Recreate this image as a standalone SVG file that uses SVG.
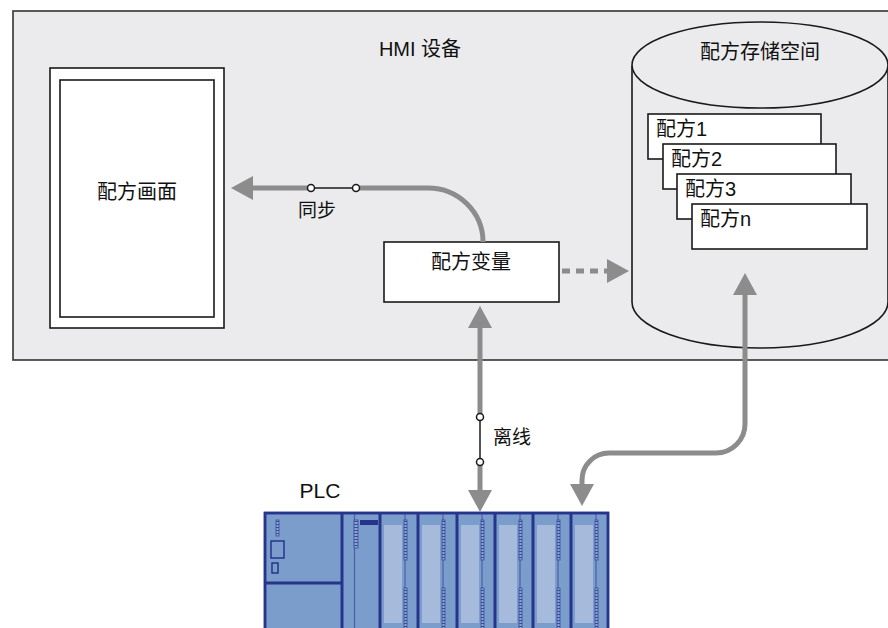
<svg xmlns="http://www.w3.org/2000/svg" width="888" height="628" viewBox="0 0 888 628">
  <style>
    .lbl { font-family: "Liberation Sans", "Noto Sans CJK SC", sans-serif; font-size: 20px; fill: #111; }
    .sm { font-size: 19px; }
    .box { fill: #ffffff; stroke: #1a1a1a; stroke-width: 1.6; }
    .pipe { fill: none; stroke: #8c8c8c; stroke-width: 5; }
    .wire { fill: none; stroke: #1a1a1a; stroke-width: 1.5; }
    .pin { fill: #ffffff; stroke: #1a1a1a; stroke-width: 1.5; }
    .rack { fill: #7b9dcb; stroke: #27348b; stroke-width: 2.5; }
    .div { stroke: #27348b; stroke-width: 3; }
    .thin { stroke: #4d5ea8; stroke-width: 1.2; }
    .panel { fill: #a6bbdc; }
    .led { fill: url(#ledpat); stroke: #3a4a9c; stroke-width: 0.8; }
  </style>
  <defs>
    <marker id="head" viewBox="0 0 22 24" refX="1" refY="12" markerWidth="22" markerHeight="24" markerUnits="userSpaceOnUse" orient="auto-start-reverse">
      <path d="M0,0 L22,12 L0,24 z" fill="#8c8c8c"/>
    </marker>
    <pattern id="ledpat" width="4" height="3" patternUnits="userSpaceOnUse">
      <rect width="4" height="3" fill="#8aa6d2"/>
      <rect y="2" width="4" height="1" fill="#3a4a9c"/>
    </pattern>
  </defs>

  <!-- HMI device frame -->
  <g id="hmi">
    <rect x="13" y="11" width="890" height="349" fill="#ebebed" stroke="#333" stroke-width="1.6"/>
    <text class="lbl" x="420" y="56" text-anchor="middle">HMI 设备</text>
  </g>

  <!-- recipe screen -->
  <g id="recipe-screen">
    <rect class="box" x="50" y="68" width="174" height="260"/>
    <rect class="box" x="60" y="80" width="154" height="237"/>
    <text class="lbl" x="137" y="199" text-anchor="middle">配方画面</text>
  </g>

  <!-- recipe variable -->
  <g id="recipe-variable">
    <rect class="box" x="384" y="242" width="175" height="60"/>
    <text class="lbl" x="471" y="269" text-anchor="middle">配方变量</text>
  </g>

  <!-- recipe storage cylinder -->
  <g id="recipe-storage">
    <path d="M632,66 L632,302 A128,46 0 0 0 888,302 L888,66" fill="#ebebed" stroke="#1a1a1a" stroke-width="1.6"/>
    <ellipse cx="760" cy="65" rx="128" ry="43" fill="#ebebed" stroke="#1a1a1a" stroke-width="1.6"/>
    <text class="lbl" x="760" y="59" text-anchor="middle">配方存储空间</text>
    <rect class="box" x="648" y="114" width="173" height="45"/>
    <text class="lbl" x="656" y="136">配方1</text>
    <rect class="box" x="663" y="144" width="173" height="45"/>
    <text class="lbl" x="671" y="166">配方2</text>
    <rect class="box" x="677" y="174" width="174" height="45"/>
    <text class="lbl" x="685" y="196">配方3</text>
    <rect class="box" x="692" y="204" width="175" height="45"/>
    <text class="lbl" x="700" y="226">配方n</text>
  </g>

  <!-- PLC rack -->
  <g id="plc">
    <text class="lbl" x="320" y="498" text-anchor="middle" style="font-size:21px">PLC</text>
    <rect class="rack" x="265" y="513" width="343" height="130"/>
    <!-- power supply -->
    <line class="div" x1="342" y1="513" x2="342" y2="640"/>
    <line class="div" x1="265" y1="583" x2="342" y2="583"/>
    <rect class="led" x="276" y="520" width="3" height="16"/>
    <rect x="271" y="541" width="13" height="17" fill="none" stroke="#27348b" stroke-width="1.5"/>
    <rect x="272" y="563" width="6" height="10" fill="none" stroke="#27348b" stroke-width="1.5"/>
    <!-- CPU -->
    <line class="thin" x1="354.5" y1="513" x2="354.5" y2="640"/>
    <rect class="led" x="354" y="520" width="4" height="28"/>
    <rect x="360" y="520" width="18" height="5" fill="#27348b"/>
    <!-- signal modules -->
    <g id="sm1">
      <line class="div" x1="380" y1="513" x2="380" y2="640"/>
      <rect class="panel" x="384" y="525" width="18" height="98"/>
      <line class="thin" x1="405" y1="513" x2="405" y2="640"/>
      <rect class="led" x="404" y="520" width="3" height="40"/>
      <rect class="led" x="404" y="588" width="3" height="45"/>
    </g>
    <g id="sm2">
      <line class="div" x1="418" y1="513" x2="418" y2="640"/>
      <rect class="panel" x="422" y="525" width="18" height="98"/>
      <line class="thin" x1="443" y1="513" x2="443" y2="640"/>
      <rect class="led" x="442" y="520" width="3" height="40"/>
      <rect class="led" x="442" y="588" width="3" height="45"/>
    </g>
    <g id="sm3">
      <line class="div" x1="457" y1="513" x2="457" y2="640"/>
      <rect class="panel" x="461" y="525" width="18" height="98"/>
      <line class="thin" x1="482" y1="513" x2="482" y2="640"/>
      <rect class="led" x="481" y="520" width="3" height="40"/>
      <rect class="led" x="481" y="588" width="3" height="45"/>
    </g>
    <g id="sm4">
      <line class="div" x1="495" y1="513" x2="495" y2="640"/>
      <rect class="panel" x="499" y="525" width="18" height="98"/>
      <line class="thin" x1="520" y1="513" x2="520" y2="640"/>
      <rect class="led" x="519" y="520" width="3" height="40"/>
      <rect class="led" x="519" y="588" width="3" height="45"/>
    </g>
    <g id="sm5">
      <line class="div" x1="533" y1="513" x2="533" y2="640"/>
      <rect class="panel" x="537" y="525" width="18" height="98"/>
      <line class="thin" x1="558" y1="513" x2="558" y2="640"/>
      <rect class="led" x="557" y="520" width="3" height="40"/>
      <rect class="led" x="557" y="588" width="3" height="45"/>
    </g>
    <g id="sm6">
      <line class="div" x1="571" y1="513" x2="571" y2="640"/>
      <rect class="panel" x="575" y="525" width="18" height="98"/>
      <line class="thin" x1="596" y1="513" x2="596" y2="640"/>
      <rect class="led" x="595" y="520" width="3" height="40"/>
      <rect class="led" x="595" y="588" width="3" height="45"/>
    </g>
    <rect x="265" y="513" width="343" height="130" fill="none" stroke="#27348b" stroke-width="2.5"/>
  </g>

  <!-- connectors -->
  <g id="connectors">
    <!-- synchronise: variable to screen -->
    <path class="pipe" d="M483,242 A55,54 0 0 0 428,188 L356,188"/>
    <line class="wire" x1="311" y1="188" x2="356" y2="188"/>
    <path class="pipe" d="M311,188 L252,188" marker-end="url(#head)"/>
    <circle class="pin" cx="311" cy="188" r="3.5"/>
    <circle class="pin" cx="356" cy="188" r="3.5"/>
    <text class="lbl sm" x="317" y="217" text-anchor="middle">同步</text>

    <!-- variable to storage -->
    <path class="pipe" d="M562,271 L608,271" stroke-dasharray="8 6" marker-end="url(#head)"/>

    <!-- offline: variable to PLC -->
    <path class="pipe" d="M480,417 L480,327" marker-end="url(#head)"/>
    <path class="pipe" d="M480,462 L480,491" marker-end="url(#head)"/>
    <line class="wire" x1="480" y1="417" x2="480" y2="462"/>
    <circle class="pin" cx="480" cy="417" r="3.5"/>
    <circle class="pin" cx="480" cy="462" r="3.5"/>
    <text class="lbl sm" x="493" y="444">离线</text>

    <!-- storage to PLC -->
    <path class="pipe" d="M582,485 L582,480 A27,27 0 0 1 609,453 L716,453 A29,29 0 0 0 745,424 L745,294" marker-start="url(#head)" marker-end="url(#head)"/>
  </g>
</svg>
